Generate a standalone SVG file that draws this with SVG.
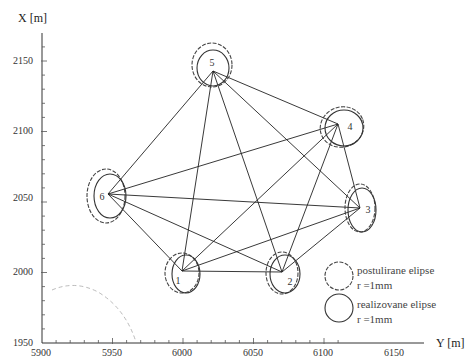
<svg xmlns="http://www.w3.org/2000/svg" width="476" height="358" viewBox="0 0 476 358">
<style>
.ax{stroke:#333;stroke-width:1;fill:none}
.tk{stroke:#555;stroke-width:0.8}
.t{font-family:"Liberation Serif",serif;font-size:10px;fill:#333}
.al{font-family:"Liberation Serif",serif;font-size:12px;fill:#222}
.lg{font-family:"Liberation Serif",serif;font-size:11px;fill:#444}
.nl{font-family:"Liberation Serif",serif;font-size:10px;fill:#333;text-anchor:middle}
.e{stroke:#222;stroke-width:0.9}
.pd{fill:none;stroke:#444;stroke-width:1.1;stroke-dasharray:4 1.5}
.rs{fill:none;stroke:#333;stroke-width:1.1}
</style>
<rect width="476" height="358" fill="#fff"/>
<g id="axes">
<line class="ax" x1="42" y1="33" x2="42" y2="343"/>
<line class="ax" x1="42" y1="343" x2="424" y2="343"/>
<g class="tk">
<line x1="56.1" y1="343" x2="56.1" y2="340"/><line x1="70.2" y1="343" x2="70.2" y2="340"/><line x1="84.3" y1="343" x2="84.3" y2="340"/><line x1="98.4" y1="343" x2="98.4" y2="340"/><line x1="112.5" y1="344" x2="112.5" y2="338"/>
<line x1="126.6" y1="343" x2="126.6" y2="340"/><line x1="140.7" y1="343" x2="140.7" y2="340"/><line x1="154.8" y1="343" x2="154.8" y2="340"/><line x1="168.9" y1="343" x2="168.9" y2="340"/><line x1="183" y1="344" x2="183" y2="338"/>
<line x1="197.1" y1="343" x2="197.1" y2="340"/><line x1="211.2" y1="343" x2="211.2" y2="340"/><line x1="225.3" y1="343" x2="225.3" y2="340"/><line x1="239.4" y1="343" x2="239.4" y2="340"/><line x1="253.5" y1="344" x2="253.5" y2="338"/>
<line x1="267.6" y1="343" x2="267.6" y2="340"/><line x1="281.7" y1="343" x2="281.7" y2="340"/><line x1="295.8" y1="343" x2="295.8" y2="340"/><line x1="309.9" y1="343" x2="309.9" y2="340"/><line x1="324" y1="344" x2="324" y2="338"/>
<line x1="338.1" y1="343" x2="338.1" y2="340"/>
<line x1="42" y1="328.9" x2="45" y2="328.9"/><line x1="42" y1="314.8" x2="45" y2="314.8"/><line x1="42" y1="300.7" x2="45" y2="300.7"/><line x1="42" y1="286.6" x2="45" y2="286.6"/><line x1="41" y1="272.5" x2="47" y2="272.5"/>
<line x1="42" y1="258.4" x2="45" y2="258.4"/><line x1="42" y1="244.3" x2="45" y2="244.3"/><line x1="42" y1="230.2" x2="45" y2="230.2"/><line x1="42" y1="216.1" x2="45" y2="216.1"/><line x1="41" y1="202" x2="47" y2="202"/>
<line x1="42" y1="187.9" x2="45" y2="187.9"/><line x1="42" y1="173.8" x2="45" y2="173.8"/><line x1="42" y1="159.7" x2="45" y2="159.7"/><line x1="42" y1="145.6" x2="45" y2="145.6"/><line x1="41" y1="131.5" x2="47" y2="131.5"/>
<line x1="42" y1="117.4" x2="45" y2="117.4"/><line x1="42" y1="103.3" x2="45" y2="103.3"/><line x1="42" y1="89.2" x2="45" y2="89.2"/><line x1="42" y1="75.1" x2="45" y2="75.1"/><line x1="41" y1="61" x2="47" y2="61"/>
<line x1="42" y1="46.9" x2="45" y2="46.9"/>
</g>
<text class="al" x="18" y="22">X [m]</text>
<text class="al" x="436" y="347">Y [m]</text>
<text class="t" x="13" y="64">2150</text>
<text class="t" x="13" y="134">2100</text>
<text class="t" x="13" y="201">2050</text>
<text class="t" x="13" y="275">2000</text>
<text class="t" x="13" y="346">1950</text>
<text class="t" x="31" y="356">5900</text>
<text class="t" x="102" y="356">5950</text>
<text class="t" x="172" y="356">6000</text>
<text class="t" x="243" y="356">6050</text>
<text class="t" x="313" y="356">6100</text>
<text class="t" x="384" y="356">6150</text>
<path d="M52 290 Q75 280 98 292 Q125 308 136 342" fill="none" stroke="#aaa" stroke-width="0.8" stroke-dasharray="4 3"/>
</g>
<g id="connectors">
<line class="e" x1="182" y1="271" x2="282" y2="272"/>
<line class="e" x1="182" y1="271" x2="360" y2="208"/>
<line class="e" x1="182" y1="271" x2="338" y2="124"/>
<line class="e" x1="182" y1="271" x2="213" y2="71"/>
<line class="e" x1="182" y1="271" x2="108" y2="194"/>
<line class="e" x1="282" y1="272" x2="360" y2="208"/>
<line class="e" x1="282" y1="272" x2="338" y2="124"/>
<line class="e" x1="282" y1="272" x2="213" y2="71"/>
<line class="e" x1="282" y1="272" x2="108" y2="194"/>
<line class="e" x1="360" y1="208" x2="338" y2="124"/>
<line class="e" x1="360" y1="208" x2="213" y2="71"/>
<line class="e" x1="360" y1="208" x2="108" y2="194"/>
<line class="e" x1="338" y1="124" x2="213" y2="71"/>
<line class="e" x1="338" y1="124" x2="108" y2="194"/>
<line class="e" x1="213" y1="71" x2="108" y2="194"/>
</g>
<g id="n1">
<ellipse class="pd" cx="182" cy="273" rx="17" ry="20"/>
<ellipse class="rs" cx="186" cy="274" rx="14" ry="19"/>
<text class="nl" x="178" y="284">1</text>
</g>
<g id="n2">
<ellipse class="pd" cx="282" cy="273" rx="16" ry="21"/>
<ellipse class="rs" cx="285" cy="274" rx="15" ry="19"/>
<text class="nl" x="290" y="285">2</text>
</g>
<g id="n3">
<ellipse class="pd" cx="360" cy="208" rx="15" ry="24"/>
<ellipse class="rs" cx="362" cy="210" rx="14" ry="22"/>
<text class="nl" x="368" y="213">3</text>
</g>
<g id="n4">
<ellipse class="pd" cx="342" cy="127" rx="22" ry="20" transform="rotate(-20 342 127)"/>
<ellipse class="rs" cx="344" cy="128" rx="19" ry="18"/>
<text class="nl" x="350" y="130">4</text>
</g>
<g id="n5">
<ellipse class="pd" cx="212" cy="65" rx="20" ry="22"/>
<ellipse class="rs" cx="213" cy="68" rx="16" ry="18"/>
<text class="nl" x="212" y="66">5</text>
</g>
<g id="n6">
<ellipse class="pd" cx="106" cy="196" rx="19" ry="27"/>
<ellipse class="rs" cx="110" cy="196" rx="16" ry="22"/>
<text class="nl" x="102" y="200">6</text>
</g>
<g id="legend">
<circle class="pd" cx="339" cy="276" r="14"/>
<circle class="rs" cx="339" cy="308" r="14"/>
<text class="lg" x="357" y="274">postulirane elipse</text>
<text class="lg" x="357" y="289">r =1mm</text>
<text class="lg" x="357" y="308">realizovane elipse</text>
<text class="lg" x="357" y="323">r =1mm</text>
</g>
</svg>
